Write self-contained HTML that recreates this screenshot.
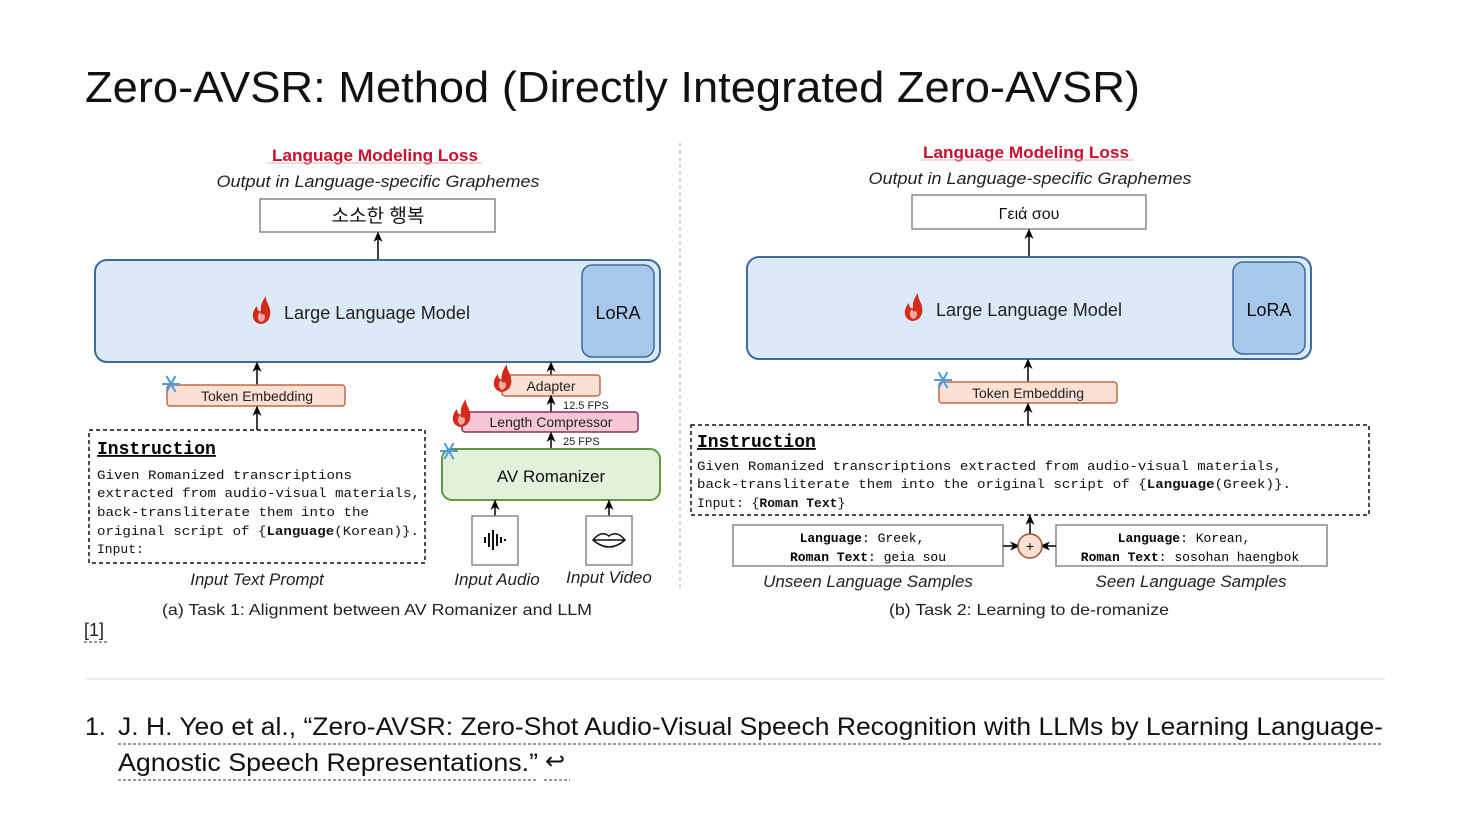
<!DOCTYPE html>
<html><head><meta charset="utf-8"><style>
html,body{margin:0;padding:0;background:#fff;}
svg{display:block;}
text{font-family:"Liberation Sans","Noto Sans CJK KR",sans-serif;}
.m{font-family:"Liberation Mono","DejaVu Sans Mono",monospace;}
</style></head><body>
<svg width="1470" height="828" viewBox="0 0 1470 828" xmlns="http://www.w3.org/2000/svg">
<defs>
<marker id="a" markerWidth="8" markerHeight="8" refX="4" refY="4" orient="auto"><path d="M0,1 L7,4 L0,7 L2,4 z" fill="#000"/></marker>
<g id="flame"><path d="M0,14 C-9,12 -9,2 -3,-4 C-3,1 0,2 1,1 C0,-5 3,-10 6,-14 C5,-8 12,-3 10,6 C9,11 5,14 0,14 z" fill="#d42a1c"/><path d="M1,12 C-3,10 -3,5 0,2 C1,5 3,5 4,4 C6,7 5,11 1,12 z" fill="#fff" opacity="0.6"/></g>
<g id="snow" stroke="#4f9ae0" stroke-width="2"><line x1="-9" y1="0" x2="9" y2="0"/><line x1="-4.5" y1="-8" x2="4.5" y2="8"/><line x1="-4.5" y1="8" x2="4.5" y2="-8"/></g>
</defs>
<rect width="1470" height="828" fill="#fff"/>
<text x="85" y="102" font-size="44" fill="#111" textLength="1055" lengthAdjust="spacingAndGlyphs" font-weight="300">Zero-AVSR: Method (Directly Integrated Zero-AVSR)</text>

<!-- divider -->
<line x1="680" y1="143" x2="680" y2="590" stroke="#aaa" stroke-dasharray="4,3"/>

<!-- LEFT -->
<text x="375" y="161" font-size="17" fill="#c8102e" text-anchor="middle" font-weight="bold" textLength="206" lengthAdjust="spacingAndGlyphs">Language Modeling Loss</text>
<line x1="268" y1="163" x2="482" y2="163" stroke="#e8b0b0"/>
<text x="378" y="187" font-size="17" fill="#222" text-anchor="middle" font-style="italic" textLength="323" lengthAdjust="spacingAndGlyphs">Output in Language-specific Graphemes</text>
<rect x="260" y="199" width="235" height="33" fill="#fff" stroke="#888" stroke-width="1.5"/>
<text x="378" y="222" font-size="19" text-anchor="middle" fill="#111">소소한 행복</text>
<line x1="378" y1="260" x2="378" y2="236" stroke="#000" stroke-width="1.5" marker-end="url(#a)"/>
<rect x="95" y="260" width="565" height="102" rx="12" fill="#dce9f6" stroke="#3e6b9a" stroke-width="2"/>
<rect x="582" y="265" width="72" height="92" rx="10" fill="#a7c8ea" stroke="#3e6b9a" stroke-width="1.5"/>
<text x="618" y="319" font-size="18" text-anchor="middle" fill="#111">LoRA</text>
<use href="#flame" x="260" y="310"/>
<text x="284" y="319" font-size="18" fill="#222" textLength="186" lengthAdjust="spacingAndGlyphs">Large Language Model</text>
<line x1="257" y1="385" x2="257" y2="366" stroke="#000" stroke-width="1.5" marker-end="url(#a)"/>
<rect x="167" y="385" width="178" height="21" rx="3" fill="#fbe0d3" stroke="#c0694a" stroke-width="1.5"/>
<text x="257" y="401" font-size="14" text-anchor="middle" fill="#222">Token Embedding</text>
<use href="#snow" x="171" y="384"/>
<line x1="257" y1="430" x2="257" y2="410" stroke="#000" stroke-width="1.5" marker-end="url(#a)"/>
<rect x="89" y="430" width="336" height="133" fill="#fff" stroke="#111" stroke-width="1.5" stroke-dasharray="4,3"/>
<text x="97" y="454" font-size="18" font-weight="bold" class="m" text-decoration="underline">Instruction</text>
<g class="m" font-size="13" fill="#111">
<text x="97" y="479" class="m" textLength="255" lengthAdjust="spacingAndGlyphs">Given Romanized transcriptions</text>
<text x="97" y="497" class="m" textLength="323" lengthAdjust="spacingAndGlyphs">extracted from audio-visual materials,</text>
<text x="97" y="516" class="m" textLength="272" lengthAdjust="spacingAndGlyphs">back-transliterate them into the</text>
<text x="97" y="535" class="m" textLength="322" lengthAdjust="spacingAndGlyphs">original script of {<tspan font-weight="bold">Language</tspan>(Korean)}.</text>
<text x="97" y="553" class="m">Input:</text>
</g>
<text x="257" y="585" font-size="17" font-style="italic" text-anchor="middle" fill="#222">Input Text Prompt</text>

<line x1="551" y1="375" x2="551" y2="366" stroke="#000" stroke-width="1.5" marker-end="url(#a)"/>
<rect x="502" y="375" width="98" height="21" rx="3" fill="#fbe0d3" stroke="#c0694a" stroke-width="1.5"/>
<text x="551" y="391" font-size="14" text-anchor="middle" fill="#222">Adapter</text>
<use href="#flame" x="501" y="378" transform="translate(0,0)"/>
<line x1="551" y1="412" x2="551" y2="399" stroke="#000" stroke-width="1.5" marker-end="url(#a)"/>
<text x="563" y="409" font-size="11" fill="#222">12.5 FPS</text>
<rect x="462" y="412" width="176" height="20" rx="3" fill="#f5c7d4" stroke="#8b3060" stroke-width="1.5"/>
<text x="551" y="427" font-size="14" text-anchor="middle" fill="#222">Length Compressor</text>
<use href="#flame" x="460" y="413"/>
<line x1="551" y1="449" x2="551" y2="436" stroke="#000" stroke-width="1.5" marker-end="url(#a)"/>
<text x="563" y="445" font-size="11" fill="#222">25 FPS</text>
<rect x="442" y="449" width="218" height="51" rx="10" fill="#e3f1da" stroke="#5a9b43" stroke-width="2"/>
<text x="551" y="482" font-size="17" text-anchor="middle" fill="#111">AV Romanizer</text>
<use href="#snow" x="449" y="451"/>
<line x1="495" y1="516" x2="495" y2="504" stroke="#000" stroke-width="1.5" marker-end="url(#a)"/>
<line x1="609" y1="516" x2="609" y2="504" stroke="#000" stroke-width="1.5" marker-end="url(#a)"/>
<rect x="472" y="516" width="46" height="49" fill="#fff" stroke="#888" stroke-width="1.5"/>
<g stroke="#111" stroke-width="2"><line x1="485" y1="537" x2="485" y2="543"/><line x1="489" y1="533" x2="489" y2="547"/><line x1="493" y1="530" x2="493" y2="550"/><line x1="497" y1="534" x2="497" y2="546"/><line x1="501" y1="537" x2="501" y2="543"/><line x1="505" y1="539" x2="505" y2="541"/></g>
<rect x="586" y="516" width="46" height="49" fill="#fff" stroke="#888" stroke-width="1.5"/>
<path d="M593,540 Q601,530 609,536 Q617,530 625,540 Q609,554 593,540 z M593,540 L625,540" fill="none" stroke="#111" stroke-width="1.5"/>
<text x="497" y="585" font-size="17" font-style="italic" text-anchor="middle" fill="#222">Input Audio</text>
<text x="609" y="583" font-size="17" font-style="italic" text-anchor="middle" fill="#222">Input Video</text>
<text x="377" y="615" font-size="16" text-anchor="middle" fill="#222" textLength="430" lengthAdjust="spacingAndGlyphs">(a) Task 1: Alignment between AV Romanizer and LLM</text>

<!-- RIGHT -->
<text x="1026" y="158" font-size="17" fill="#c8102e" text-anchor="middle" font-weight="bold" textLength="206" lengthAdjust="spacingAndGlyphs">Language Modeling Loss</text>
<line x1="920" y1="160" x2="1134" y2="160" stroke="#e8b0b0"/>
<text x="1030" y="184" font-size="17" fill="#222" text-anchor="middle" font-style="italic" textLength="323" lengthAdjust="spacingAndGlyphs">Output in Language-specific Graphemes</text>
<rect x="912" y="195" width="234" height="34" fill="#fff" stroke="#888" stroke-width="1.5"/>
<text x="1029" y="219" font-size="16" text-anchor="middle" fill="#111">Γειά σου</text>
<line x1="1029" y1="257" x2="1029" y2="233" stroke="#000" stroke-width="1.5" marker-end="url(#a)"/>
<rect x="747" y="257" width="564" height="102" rx="12" fill="#dce9f6" stroke="#3e6b9a" stroke-width="2"/>
<rect x="1233" y="262" width="72" height="92" rx="10" fill="#a7c8ea" stroke="#3e6b9a" stroke-width="1.5"/>
<text x="1269" y="316" font-size="18" text-anchor="middle" fill="#111">LoRA</text>
<use href="#flame" x="912" y="307"/>
<text x="936" y="316" font-size="18" fill="#222" textLength="186" lengthAdjust="spacingAndGlyphs">Large Language Model</text>
<line x1="1028" y1="382" x2="1028" y2="363" stroke="#000" stroke-width="1.5" marker-end="url(#a)"/>
<rect x="939" y="382" width="178" height="21" rx="3" fill="#fbe0d3" stroke="#c0694a" stroke-width="1.5"/>
<text x="1028" y="398" font-size="14" text-anchor="middle" fill="#222">Token Embedding</text>
<use href="#snow" x="943" y="380"/>
<line x1="1028" y1="425" x2="1028" y2="407" stroke="#000" stroke-width="1.5" marker-end="url(#a)"/>
<rect x="691" y="425" width="678" height="90" fill="#fff" stroke="#111" stroke-width="1.5" stroke-dasharray="4,3"/>
<text x="697" y="447" font-size="18" font-weight="bold" class="m" text-decoration="underline">Instruction</text>
<g font-size="13" fill="#111">
<text x="697" y="470" class="m" textLength="585" lengthAdjust="spacingAndGlyphs">Given Romanized transcriptions extracted from audio-visual materials,</text>
<text x="697" y="488" class="m" textLength="594" lengthAdjust="spacingAndGlyphs">back-transliterate them into the original script of {<tspan font-weight="bold">Language</tspan>(Greek)}.</text>
<text x="697" y="507" class="m">Input: {<tspan font-weight="bold">Roman Text</tspan>}</text>
</g>
<rect x="733" y="525" width="270" height="41" fill="#fff" stroke="#888" stroke-width="1.5"/>
<text x="862" y="542" font-size="13" text-anchor="middle" class="m"><tspan font-weight="bold">Language</tspan>: Greek,</text>
<text x="868" y="561" font-size="13" text-anchor="middle" class="m"><tspan font-weight="bold">Roman Text</tspan>: geia sou</text>
<rect x="1056" y="525" width="271" height="41" fill="#fff" stroke="#888" stroke-width="1.5"/>
<text x="1184" y="542" font-size="13" text-anchor="middle" class="m"><tspan font-weight="bold">Language</tspan>: Korean,</text>
<text x="1190" y="561" font-size="13" text-anchor="middle" class="m"><tspan font-weight="bold">Roman Text</tspan>: sosohan haengbok</text>
<line x1="1003" y1="546" x2="1016" y2="546" stroke="#000" stroke-width="1.5" marker-end="url(#a)"/>
<line x1="1056" y1="546" x2="1044" y2="546" stroke="#000" stroke-width="1.5" marker-end="url(#a)"/>
<line x1="1030" y1="534" x2="1030" y2="519" stroke="#000" stroke-width="1.5" marker-end="url(#a)"/>
<circle cx="1030" cy="546" r="12" fill="#fbe0d3" stroke="#a0522d" stroke-width="1.5"/>
<text x="1030" y="551" font-size="14" text-anchor="middle">+</text>
<text x="868" y="587" font-size="17" font-style="italic" text-anchor="middle" fill="#222">Unseen Language Samples</text>
<text x="1191" y="587" font-size="17" font-style="italic" text-anchor="middle" fill="#222">Seen Language Samples</text>
<text x="1029" y="615" font-size="16" text-anchor="middle" fill="#222" textLength="280" lengthAdjust="spacingAndGlyphs">(b) Task 2: Learning to de-romanize</text>

<!-- footnote -->
<text x="84" y="636" font-size="18" fill="#222">[1]</text>
<line x1="84" y1="642" x2="108" y2="642" stroke="#333" stroke-dasharray="3,2"/>
<line x1="85" y1="679" x2="1385" y2="679" stroke="#e6e6e6" stroke-width="1.5"/>
<text x="85" y="735" font-size="25" fill="#111">1.</text>
<text x="118" y="735" font-size="25" fill="#111" textLength="1265" lengthAdjust="spacingAndGlyphs">J. H. Yeo et al., “Zero-AVSR: Zero-Shot Audio-Visual Speech Recognition with LLMs by Learning Language-</text>
<line x1="118" y1="744" x2="1383" y2="744" stroke="#333" stroke-dasharray="3,2"/>
<text x="118" y="771" font-size="25" fill="#111" textLength="420" lengthAdjust="spacingAndGlyphs">Agnostic Speech Representations.”</text>
<text x="545" y="769" font-size="24" fill="#111">↩</text>
<line x1="118" y1="780" x2="537" y2="780" stroke="#333" stroke-dasharray="3,2"/>
<line x1="544" y1="780" x2="570" y2="780" stroke="#333" stroke-dasharray="3,2"/>
</svg>
</body></html>
